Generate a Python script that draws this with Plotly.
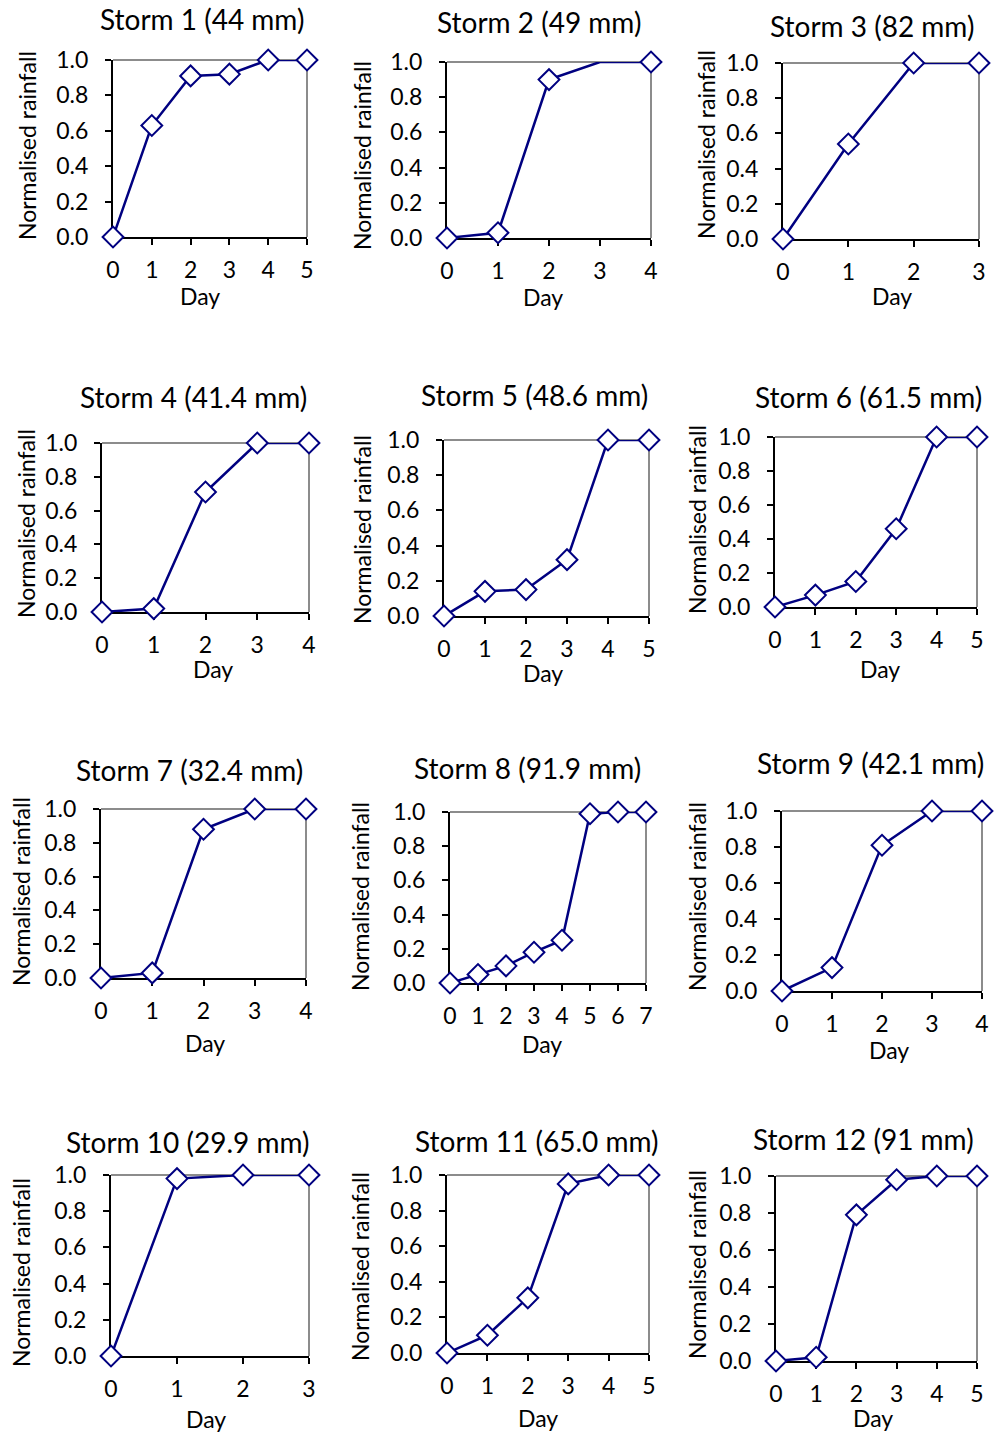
import plotly.graph_objects as go

W, H = 994, 1434

# ---- data: normalised cumulative rainfall per day ----
titles = [
    "Storm 1 (44 mm)", "Storm 2 (49 mm)", "Storm 3 (82 mm)",
    "Storm 4 (41.4 mm)", "Storm 5 (48.6 mm)", "Storm 6 (61.5 mm)",
    "Storm 7 (32.4 mm)", "Storm 8 (91.9 mm)", "Storm 9 (42.1 mm)",
    "Storm 10 (29.9 mm)", "Storm 11 (65.0 mm)", "Storm 12 (91 mm)",
]
storm1 = [0.0, 0.63, 0.91, 0.92, 1.0, 1.0]
storm2 = [0.0, 0.03, 0.90, 1.0, 1.0]
storm3 = [0.0, 0.54, 1.0, 1.0]
storm4 = [0.0, 0.02, 0.71, 1.0, 1.0]
storm5 = [0.0, 0.14, 0.15, 0.32, 1.0, 1.0]
storm6 = [0.0, 0.07, 0.15, 0.46, 1.0, 1.0]
storm7 = [0.0, 0.03, 0.88, 1.0, 1.0]
storm8 = [0.0, 0.05, 0.10, 0.18, 0.25, 0.99, 1.0, 1.0]
storm9 = [0.0, 0.13, 0.81, 1.0, 1.0]
storm10 = [0.0, 0.98, 1.0, 1.0]
storm11 = [0.0, 0.10, 0.31, 0.95, 1.0, 1.0]
storm12 = [0.0, 0.02, 0.79, 0.98, 1.0, 1.0]
series = [storm1, storm2, storm3, storm4, storm5, storm6,
          storm7, storm8, storm9, storm10, storm11, storm12]
# day indices plotted without a marker (storm index -> days)
no_marker_days = {1: [3]}

y_ticks = [0.0, 0.2, 0.4, 0.6, 0.8, 1.0]
y_ticktext = ["0.0", "0.2", "0.4", "0.6", "0.8", "1.0"]

# ---- layout: plot boxes in pixels (left, right, top, bottom) ----
boxes = [
    (113, 307, 60, 237), (447, 651, 62, 238), (783, 979, 63, 239),
    (102, 309, 443, 612), (444, 649, 440, 616), (775, 977, 437, 607),
    (101, 306, 809, 978), (450, 646, 812, 983), (782, 982, 811, 991),
    (111, 309, 1175, 1356), (447, 649, 1175, 1353), (776, 977, 1176, 1361),
]
title_xy = [
    (202, 19), (539, 22), (872, 26),
    (193, 397), (534, 395), (868, 397),
    (189, 770), (527, 768), (870, 763),
    (187, 1142), (536, 1141), (863, 1139),
]
ylabel_xy = [
    (27, 146), (362, 156), (706, 145),
    (26, 524), (362, 530), (697, 520),
    (21, 892), (360, 897), (697, 897),
    (21, 1273), (360, 1267), (697, 1265),
]
xlabel_xy = [
    (200, 296), (543, 297), (892, 296),
    (213, 669), (543, 673), (880, 669),
    (205, 1043), (542, 1044), (889, 1050),
    (206, 1419), (538, 1418), (873, 1418),
]

FONT = "Lato, 'Open Sans', sans-serif"
NAVY = "#000080"
BORDER = "#8c8c8c"

fig = go.Figure()
annotations = []
shapes = []

for i, vals in enumerate(series):
    n = i + 1
    xa = "x" if n == 1 else f"x{n}"
    ya = "y" if n == 1 else f"y{n}"
    days = list(range(len(vals)))
    sizes = [0 if d in no_marker_days.get(i, []) else 16 for d in days]

    fig.add_trace(go.Scatter(
        x=days, y=vals, xaxis=xa, yaxis=ya,
        mode="lines+markers",
        line=dict(color=NAVY, width=2.5),
        marker=dict(symbol="diamond", size=sizes, color="white", opacity=1,
                    line=dict(color=NAVY, width=2)),
        cliponaxis=False, showlegend=False, hoverinfo="x+y",
    ))

    L, R, T, B = boxes[i]
    xdom = [L / W, R / W]
    ydom = [1 - B / H, 1 - T / H]
    common = dict(showgrid=False, zeroline=False, showline=True,
                  linecolor="black", linewidth=2, ticks="outside",
                  ticklen=6, tickwidth=1.5, tickcolor="black",
                  tickfont=dict(family=FONT, size=23, color="black"),
                  layer="below traces", fixedrange=True, automargin=False)
    fig.layout[("xaxis" if n == 1 else f"xaxis{n}")] = dict(
        common, domain=xdom, anchor=ya, range=[0, len(vals) - 1],
        tickmode="array", tickvals=days, ticktext=[str(d) for d in days],
        ticklabelstandoff=5,
    )
    fig.layout[("yaxis" if n == 1 else f"yaxis{n}")] = dict(
        common, domain=ydom, anchor=xa, range=[0, 1],
        tickmode="array", tickvals=y_ticks, ticktext=y_ticktext,
        ticklabelstandoff=12,
    )

    # grey top and right frame edges
    for x0, y0, x1, y1 in [(0, 1, 1, 1), (1, 0, 1, 1)]:
        shapes.append(dict(type="line", xref=f"{xa} domain", yref=f"{ya} domain",
                           x0=x0, y0=y0, x1=x1, y1=y1, layer="below",
                           line=dict(color=BORDER, width=2)))

    tx, ty = title_xy[i]
    annotations.append(dict(text=titles[i], x=tx / W, y=1 - ty / H,
                            xref="paper", yref="paper", showarrow=False,
                            xanchor="center", yanchor="middle",
                            font=dict(family=FONT, size=28, color="black")))
    lx, ly = ylabel_xy[i]
    annotations.append(dict(text="Normalised rainfall", x=lx / W, y=1 - ly / H,
                            xref="paper", yref="paper", showarrow=False,
                            textangle=-90, xanchor="center", yanchor="middle",
                            font=dict(family=FONT, size=23, color="black")))
    dx, dy = xlabel_xy[i]
    annotations.append(dict(text="Day", x=dx / W, y=1 - dy / H,
                            xref="paper", yref="paper", showarrow=False,
                            xanchor="center", yanchor="middle",
                            font=dict(family=FONT, size=23, color="black")))

fig.update_layout(
    template="none",
    width=W, height=H, margin=dict(l=0, r=0, t=0, b=0, pad=0, autoexpand=False),
    paper_bgcolor="white", plot_bgcolor="white",
    annotations=annotations, shapes=shapes, hovermode="closest",
)

fig.write_html("out.html", config={"displayModeBar": False})
